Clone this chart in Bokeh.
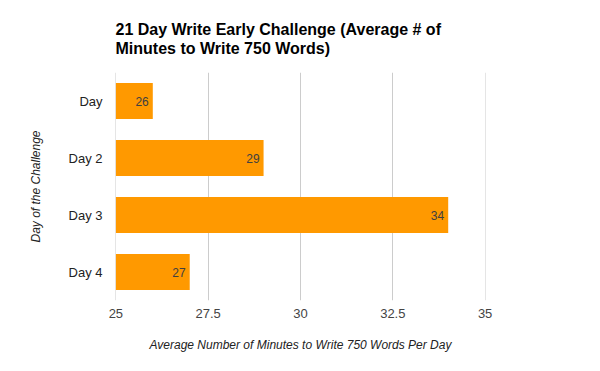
from bokeh.plotting import figure
from bokeh.models import ColumnDataSource, LabelSet, Title, FixedTicker, FactorRange, Range1d
from bokeh.core.properties import value
from bokeh.embed import file_html
from bokeh.resources import INLINE

days = ["Day", "Day 2", "Day 3", "Day 4"]
minutes = [26, 29, 34, 27]
x_ticks = [25, 27.5, 30, 32.5, 35]
x_tick_labels = ["25", "27.5", "30", "32.5", "35"]

src = ColumnDataSource(dict(day=days, val=minutes, lab=[str(v) for v in minutes]))

p = figure(width=584, height=355, output_backend="svg", toolbar_location=None,
           y_range=FactorRange(*list(reversed(days)), range_padding=0),
           x_range=Range1d(24.99, 35.01),
           min_border_left=115, min_border_right=99, min_border_top=72, min_border_bottom=55)
p.outline_line_color = None
p.background_fill_color = "white"
p.border_fill_color = "white"

p.hbar(y="day", left=25, right="val", height=0.63, source=src, fill_color="#FF9900", line_color=None)

labels = LabelSet(x="val", y="day", text="lab", source=src, x_offset=-4, text_align="right",
                  text_baseline="middle", text_font=value("Liberation Sans"), text_font_size="12px",
                  text_color="#404040")
p.add_layout(labels)

p.xaxis.ticker = FixedTicker(ticks=x_ticks)
p.xaxis.major_label_overrides = {t: l for t, l in zip(x_ticks, x_tick_labels)}
p.xaxis.axis_line_color = None
p.xaxis.major_tick_line_color = None
p.xaxis.minor_tick_line_color = None
p.xaxis.major_label_standoff = 2
p.xaxis.major_label_text_font = "Liberation Sans"
p.xaxis.major_label_text_font_size = "13px"
p.xaxis.major_label_text_color = "#444444"
p.xaxis.axis_label = "Average Number of Minutes to Write 750 Words Per Day"
p.xaxis.axis_label_text_font = "Liberation Sans"
p.xaxis.axis_label_text_font_size = "12px"
p.xaxis.axis_label_text_font_style = "italic"
p.xaxis.axis_label_text_color = "#222222"
p.xaxis.axis_label_standoff = 17

p.yaxis.axis_line_color = None
p.yaxis.major_tick_line_color = None
p.yaxis.minor_tick_line_color = None
p.yaxis.major_label_standoff = 7
p.yaxis.major_label_text_font = "Liberation Sans"
p.yaxis.major_label_text_font_size = "13px"
p.yaxis.major_label_text_color = "#222222"
p.yaxis.axis_label = "Day of the Challenge"
p.yaxis.axis_label_text_font = "Liberation Sans"
p.yaxis.axis_label_text_font_size = "12px"
p.yaxis.axis_label_text_font_style = "italic"
p.yaxis.axis_label_text_color = "#222222"
p.yaxis.axis_label_standoff = 23

p.xgrid.grid_line_color = "#cccccc"
p.ygrid.grid_line_color = None

p.title = Title(text="21 Day Write Early Challenge (Average # of\nMinutes to Write 750 Words)",
                align="left", text_font="Liberation Sans", text_font_size="16px",
                text_font_style="bold", text_color="#000000", standoff=30, text_line_height=1.15)

open("out.html", "w").write(file_html(p, INLINE))
